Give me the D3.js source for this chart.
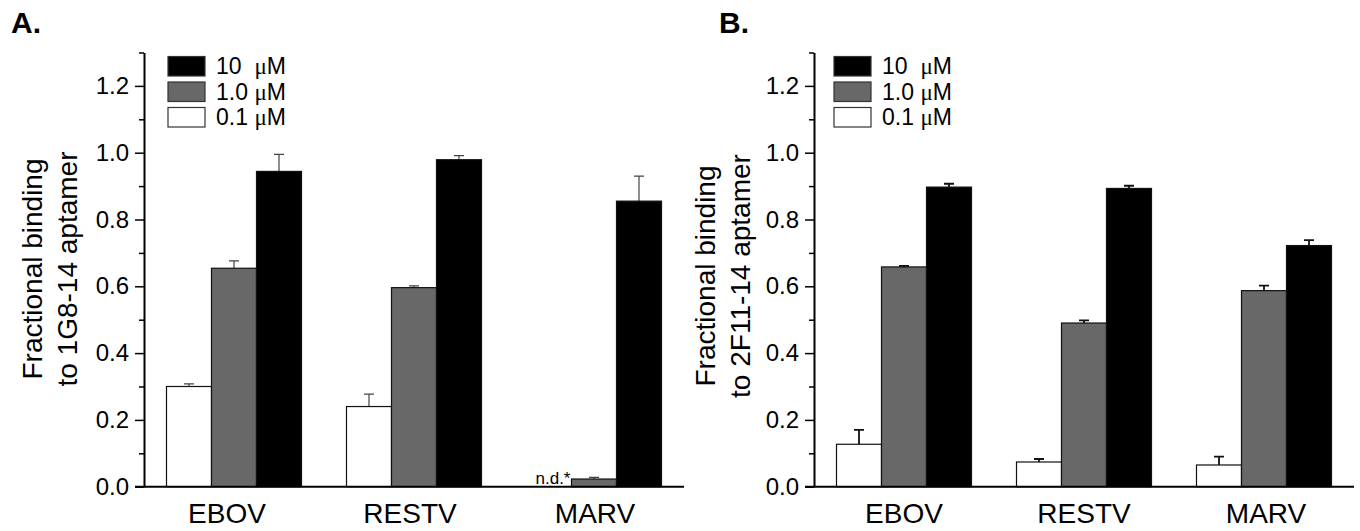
<!DOCTYPE html>
<html>
<head>
<meta charset="utf-8">
<script src="https://cdn.jsdelivr.net/npm/d3@7"></script>
<style>
  body { margin: 0; background: #fff; }
  svg { display: block; font-family: Arial, 'Liberation Sans', sans-serif; }
</style>
</head>
<body>
<div id="chart"></div>
<script>
// categories and series
const viruses = ['EBOV', 'RESTV', 'MARV'];
const legendLabels = ['10  ', '1.0 ', '0.1 '];   // followed by the µM unit
const yMajorTicks = [0, 0.2, 0.4, 0.6, 0.8, 1.0, 1.2];
const yMinorTicks = [0.1, 0.3, 0.5, 0.7, 0.9, 1.1, 1.3];

// panel A: 1G8-14 aptamer (null = n.d.)
const a01 = [0.30, 0.24, null];
const a01Err = [0.008, 0.037, null];
const a10 = [0.654, 0.596, 0.023];
const a10Err = [0.022, 0.005, 0.005];
const a100 = [0.944, 0.979, 0.855];
const a100Err = [0.051, 0.012, 0.075];

// panel B: 2F11-14 aptamer
const b01 = [0.127, 0.074, 0.065];
const b01Err = [0.043, 0.009, 0.025];
const b10 = [0.658, 0.490, 0.587];
const b10Err = [0.003, 0.008, 0.015];
const b100 = [0.897, 0.893, 0.722];
const b100Err = [0.010, 0.008, 0.016];

const fills = ['#ffffff', '#686868', '#000000'];
const width = 1360, height = 531;

const svg = d3.select('#chart').append('svg')
    .attr('width', width).attr('height', height)
    .attr('viewBox', `0 0 ${width} ${height}`);

const y = d3.scaleLinear().domain([0, 1.3]).range([486.7, 52.5]);

const drawPanel = (p) => {
    const x = d3.scaleBand().domain(viruses)
        .range([p.left, p.left + 540])
        .paddingInner(0.25).paddingOuter(0.125);
    const sub = d3.scaleBand().domain([0, 1, 2]).range([0, x.bandwidth()]);

    const g = svg.append('g');

    // panel letter
    g.append('text').attr('x', p.letterX).attr('y', 33)
        .attr('font-size', 30).attr('font-weight', 'bold').text(p.letter);

    // bars
    const series = [[p.s01, p.e01], [p.s10, p.e10], [p.s100, p.e100]];
    const rows = [];
    series.forEach(([vals, errs], i) => {
        vals.forEach((v, j) => rows.push({cat: viruses[j], i, v, e: errs[j]}));
    });
    const drawn = rows.filter(d => d.v !== null);

    g.selectAll('.err').data(drawn).join('path')
        .attr('d', d => {
            const cx = x(d.cat) + sub(d.i) + sub.bandwidth() / 2;
            const top = y(d.v + d.e);
            return `M${cx},${y(d.v)}V${top}M${cx - 5},${top}H${cx + 5}`;
        })
        .attr('fill', 'none').attr('stroke', p.errColor).attr('stroke-width', p.errWidth);

    g.selectAll('.bar').data(drawn).join('rect')
        .attr('x', d => x(d.cat) + sub(d.i))
        .attr('y', d => y(d.v))
        .attr('width', sub.bandwidth())
        .attr('height', d => y(0) - y(d.v))
        .attr('fill', d => fills[d.i])
        .attr('stroke', '#111').attr('stroke-width', 1.2);

    // n.d. labels
    g.selectAll('.nd').data(rows.filter(d => d.v === null)).join('text')
        .attr('x', d => x(d.cat) + sub(d.i) + sub.bandwidth() - 1)
        .attr('y', y(0) - 3)
        .attr('text-anchor', 'end').attr('font-size', 17)
        .text('n.d.*');

    // y axis
    const yAxis = g.append('g').attr('transform', `translate(${p.left},0)`)
        .call(d3.axisLeft(y).tickValues(yMajorTicks).tickFormat(d3.format('.1f'))
            .tickSize(9).tickSizeOuter(0).tickPadding(6));
    yAxis.select('.domain').attr('stroke-width', 2);
    yAxis.selectAll('.tick line').attr('stroke-width', 1.5);
    yAxis.selectAll('text').attr('font-size', 24).attr('font-family', null);
    const yMinor = g.append('g').attr('transform', `translate(${p.left},0)`)
        .call(d3.axisLeft(y).tickValues(yMinorTicks).tickFormat('').tickSize(5).tickSizeOuter(0));
    yMinor.select('.domain').remove();
    yMinor.selectAll('.tick line').attr('stroke-width', 1.5);

    // x axis
    const xAxis = g.append('g').attr('transform', `translate(0,${y(0)})`)
        .call(d3.axisBottom(x).tickSize(0).tickSizeOuter(0).tickPadding(16));
    xAxis.select('.domain').attr('stroke-width', 2)
        .attr('d', `M${p.left - 9},0H${p.left + 540}`);
    xAxis.selectAll('text').attr('font-size', 28).attr('font-family', null)
        .attr('dx', (d, i) => p.labelDx[i]);

    // axis title
    const title = g.append('text')
        .attr('transform', `translate(${p.titleX},${p.titleY}) rotate(-90)`)
        .attr('text-anchor', 'middle').attr('font-size', 28);
    title.append('tspan').attr('x', 0).attr('y', 0).text('Fractional binding');
    title.append('tspan').attr('x', 0).attr('y', 35).text(p.titleLine2);

    // legend
    const leg = g.append('g').attr('transform', `translate(${p.left + p.legendDx},56.5)`);
    const items = leg.selectAll('g').data(legendLabels).join('g')
        .attr('transform', (d, i) => `translate(0,${i * 25.5})`);
    items.append('rect').attr('width', 37).attr('height', 19.5)
        .attr('fill', (d, i) => fills[2 - i])
        .attr('stroke', '#333').attr('stroke-width', 1.2);
    const lt = items.append('text').attr('x', 48).attr('y', 17.5)
        .attr('font-size', 23).style('white-space', 'pre');
    lt.append('tspan').text(d => d);
    lt.append('tspan').attr('font-family', "'Liberation Serif', 'Times New Roman', serif").text('\u03bc');
    lt.append('tspan').text('M');
};

drawPanel({
    letter: 'A.', letterX: 11, left: 144, titleX: 42, titleY: 269, legendDx: 24,
    labelDx: [-7, -4, 1],
    titleLine2: 'to 1G8-14 aptamer', errColor: '#444', errWidth: 1.2,
    s01: a01, e01: a01Err, s10: a10, e10: a10Err, s100: a100, e100: a100Err
});
drawPanel({
    letter: 'B.', letterX: 719, left: 814, titleX: 715, titleY: 276, legendDx: 20,
    labelDx: [0, 0, 2],
    titleLine2: 'to 2F11-14 aptamer', errColor: '#111', errWidth: 1.8,
    s01: b01, e01: b01Err, s10: b10, e10: b10Err, s100: b100, e100: b100Err
});
</script>
</body>
</html>
